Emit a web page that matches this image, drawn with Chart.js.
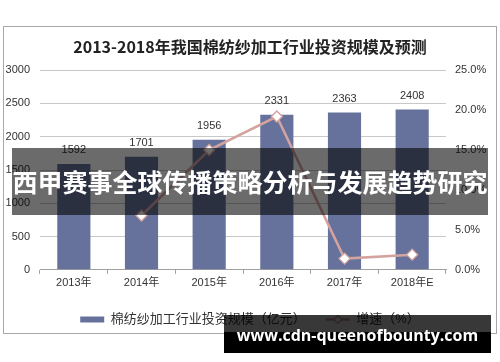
<!DOCTYPE html>
<html>
<head>
<meta charset="utf-8">
<script src="https://cdn.jsdelivr.net/npm/chart.js@4"></script>
<style>
  body { margin: 0; background: #fff; }
  #wrap { position: relative; width: 500px; height: 362px; }
  #frame { position: absolute; left: 3px; top: 26px; width: 492px; height: 306px; border: 1px solid #a8a8a8; }
  canvas { position: absolute; left: 0; top: 0; }
  #banner { position: absolute; left: 12px; top: 148px; width: 476px; height: 67px; background: rgba(0,0,0,0.58);
    color: #fff; font: bold 25px "Noto Sans CJK SC", sans-serif; line-height: 67px; text-align: center; white-space: nowrap; }
  #mark { position: absolute; left: 224px; top: 315px; width: 267px; height: 38px;
    background: linear-gradient(to bottom, rgba(0,0,0,0.78) 0, rgba(0,0,0,0.78) 17px, #000 17px);
    color: #fff; font: bold 16px "Open Sans", sans-serif; line-height: 40px; text-align: center; white-space: nowrap; }
</style>
</head>
<body>
<div id="wrap">
  <div id="frame"></div>
  <canvas id="c" width="500" height="362"></canvas>
  <div id="banner">西甲赛事全球传播策略分析与发展趋势研究</div>
  <div id="mark">www.cdn-queenofbounty.com</div>
</div>
<script>
const years = ['2013年', '2014年', '2015年', '2016年', '2017年', '2018年E'];
const investment = [1592, 1701, 1956, 2331, 2363, 2408];
const growth = [null, 6.8, 15.0, 19.2, 1.4, 1.9];
const leftTicks = [0, 500, 1000, 1500, 2000, 2500, 3000];
const rightTicks = [0, 5, 10, 15, 20, 25];

const barColor = '#66729c';
const lineColor = '#d4a3a0';
const baseFont = 'Liberation Sans, "Noto Sans CJK SC", sans-serif';

const barLabels = {
    id: 'barLabels',
    afterDatasetsDraw(chart) {
        const ctx = chart.ctx;
        const meta = chart.getDatasetMeta(1);
        ctx.save();
        ctx.font = '11px ' + baseFont;
        ctx.fillStyle = '#333';
        ctx.textAlign = 'center';
        ctx.textBaseline = 'middle';
        meta.data.forEach((bar, i) => {
            ctx.fillText(investment[i], bar.x, bar.y - 14);
        });
        ctx.restore();
    },
    afterDraw(chart) {
        // diamond marker on the line legend swatch
        const boxes = chart.legend.legendHitBoxes;
        if (!boxes || boxes.length < 2) return;
        const b = boxes[1];
        const cx = b.left + 12, cy = b.top + b.height / 2;
        const ctx = chart.ctx;
        ctx.save();
        ctx.beginPath();
        ctx.moveTo(cx, cy - 4);
        ctx.lineTo(cx + 4, cy);
        ctx.lineTo(cx, cy + 4);
        ctx.lineTo(cx - 4, cy);
        ctx.closePath();
        ctx.fillStyle = '#fff';
        ctx.fill();
        ctx.strokeStyle = lineColor;
        ctx.lineWidth = 1.2;
        ctx.stroke();
        ctx.restore();
    }
};

new Chart(document.getElementById('c'), {
    type: 'bar',
    data: {
        labels: years,
        datasets: [
            {
                type: 'line',
                label: '增速（%）',
                data: growth,
                borderColor: lineColor,
                backgroundColor: '#fff',
                borderWidth: 2.5,
                pointStyle: 'rectRot',
                pointRadius: 5.5,
                pointBorderWidth: 1.3,
                pointBackgroundColor: '#fff',
                pointBorderColor: lineColor,
                yAxisID: 'y1',
                order: 0
            },
            {
                label: '棉纺纱加工行业投资规模（亿元）',
                data: investment,
                backgroundColor: barColor,
                categoryPercentage: 1,
                barPercentage: 0.49,
                yAxisID: 'y',
                order: 1
            }
        ]
    },
    options: {
        responsive: false,
        animation: false,
        layout: { padding: { bottom: 26 } },
        plugins: {
            title: {
                display: true,
                text: '2013-2018年我国棉纺纱加工行业投资规模及预测',
                color: '#222',
                font: { family: '"Noto Sans CJK SC", sans-serif', size: 16, weight: 'bold' },
                padding: { top: 37, bottom: 14 }
            },
            legend: {
                position: 'bottom',
                reverse: true,
                labels: {
                    usePointStyle: true,
                    pointStyleWidth: 24,
                    boxWidth: 24,
                    boxHeight: 6,
                    padding: 20,
                    color: '#333',
                    font: { family: baseFont, size: 13 },
                    generateLabels(chart) {
                        return chart.data.datasets.map((ds, i) => ({
                            text: ds.label,
                            datasetIndex: i,
                            fillStyle: i === 0 ? lineColor : barColor,
                            strokeStyle: i === 0 ? lineColor : barColor,
                            lineWidth: i === 0 ? 2.5 : 0,
                            pointStyle: i === 0 ? 'line' : 'rect',
                            fontColor: '#333'
                        }));
                    }
                }
            },
            tooltip: { enabled: false }
        },
        scales: {
            x: {
                grid: { offset: true, drawOnChartArea: false, tickLength: 4, color: '#a0a0a0' },
                border: { color: '#a0a0a0' },
                ticks: { color: '#333', font: { family: baseFont, size: 11 }, padding: 3 }
            },
            y: {
                position: 'left',
                min: 0,
                max: 3000,
                afterBuildTicks: s => { s.ticks = leftTicks.map(v => ({ value: v })); },
                afterFit: s => { s.width = 40; },
                grid: { color: '#c8c8c8', drawTicks: false },
                border: { display: false },
                ticks: {
                    color: '#333',
                    font: { family: baseFont, size: 11 },
                    padding: 10,
                    callback: v => String(v)
                }
            },
            y1: {
                position: 'right',
                min: 0,
                max: 25,
                afterBuildTicks: s => { s.ticks = rightTicks.map(v => ({ value: v })); },
                afterFit: s => { s.width = 54; },
                grid: { drawOnChartArea: false, drawTicks: false },
                border: { display: false },
                ticks: {
                    color: '#333',
                    font: { family: baseFont, size: 11 },
                    padding: 9,
                    callback: v => v.toFixed(1) + '%'
                }
            }
        }
    },
    plugins: [barLabels]
});
</script>
</body>
</html>
